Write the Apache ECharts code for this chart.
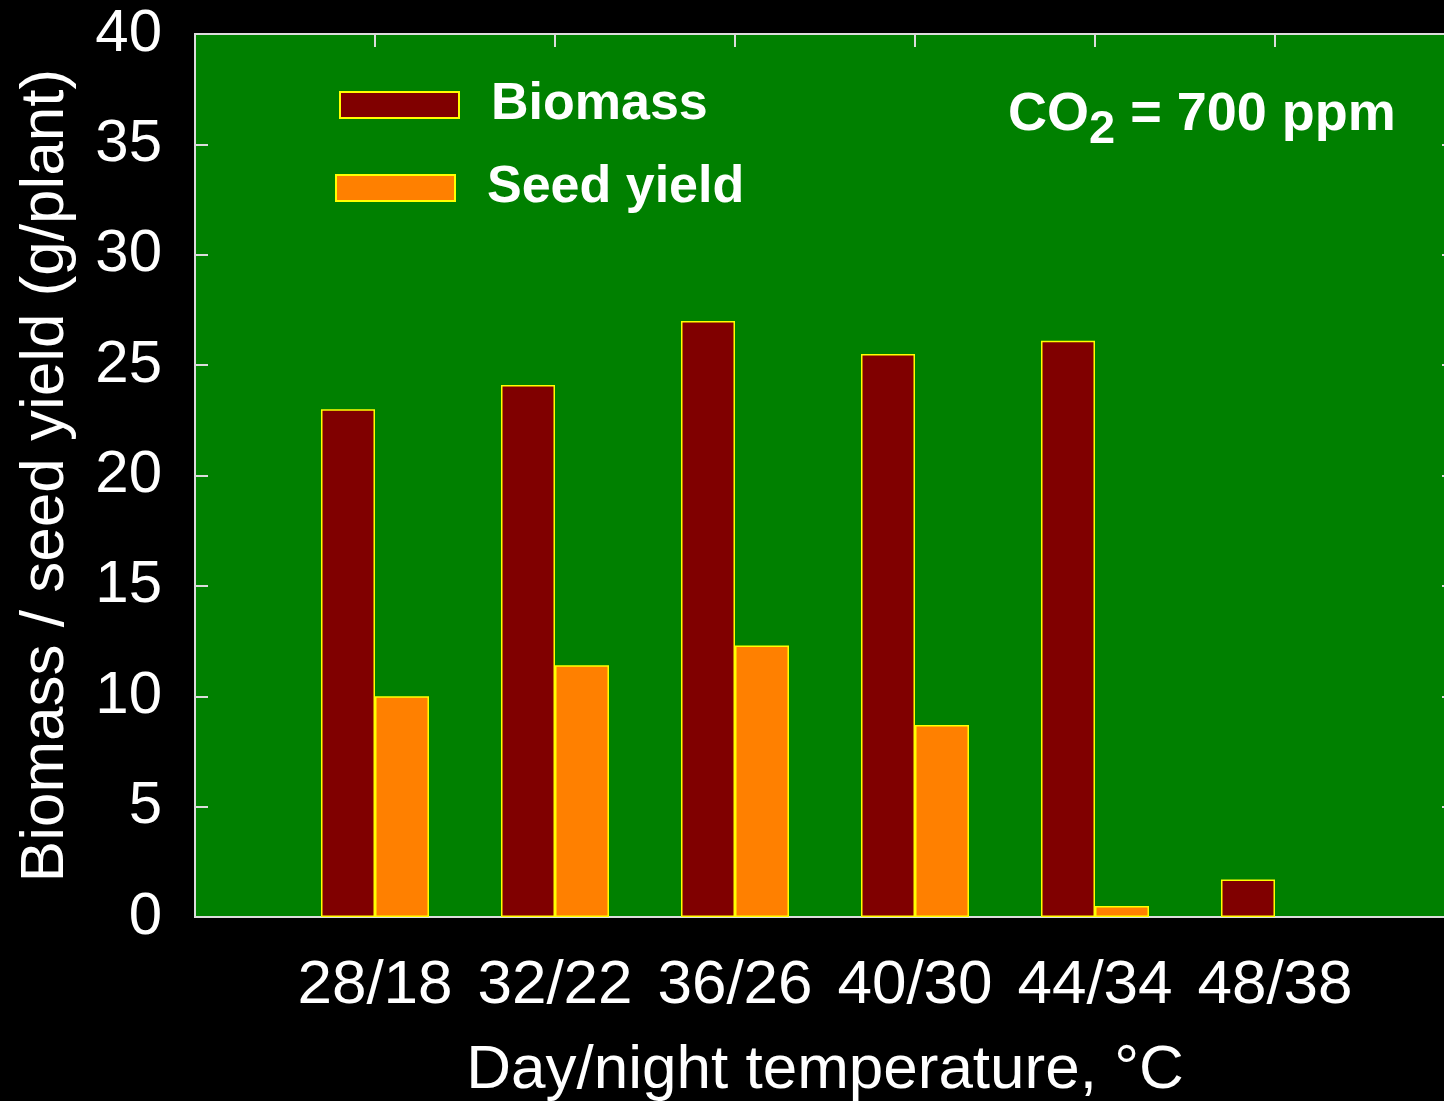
<!DOCTYPE html>
<html>
<head>
<meta charset="utf-8">
<script src="https://cdn.jsdelivr.net/npm/echarts@6/dist/echarts.min.js"></script>
<style>
  html, body { margin: 0; padding: 0; background: #000; }
  #chart { width: 1444px; height: 1101px; }
</style>
</head>
<body>
<div id="chart"></div>
<script>
// data
var temps = ['28/18', '32/22', '36/26', '40/30', '44/34', '48/38'];
var biomass = [23.0, 24.1, 27.0, 25.5, 26.1, 1.7];
var seedYield = [10.0, 11.4, 12.3, 8.7, 0.5, null]; // no seed at 48/38
var yTicks = [0, 5, 10, 15, 20, 25, 30, 35, 40];

var font = 'Liberation Sans, Arial, sans-serif';
var lineCol = '#dcdcdc';

// one empty slot on each side so the groups sit on the ticks like the original
var cats = [''].concat(temps, ['']);
var pad = function (arr) { return [null].concat(arr, [null]); };

var chart = echarts.init(document.getElementById('chart'));

var legendText = { color: '#fff', fontSize: 52, fontWeight: 'bold', fontFamily: font, lineHeight: 26, padding: [0, 0, 0, 27] };

var option = {
    backgroundColor: '#000',
    animation: false,
    grid: {
        left: 195, top: 34, bottom: 184, width: 1260,
        outerBoundsMode: 'none', containLabel: false,
        show: true, backgroundColor: '#008000',
        borderColor: lineCol, borderWidth: 2
    },
    title: {
        text: '{a|CO}{b|2}{a| = 700 ppm}',
        left: 1003, top: 83,
        textStyle: {
            rich: {
                a: { fontSize: 54, fontWeight: 'bold', color: '#fff', fontFamily: font, lineHeight: 60, verticalAlign: 'top' },
                b: { fontSize: 47, fontWeight: 'bold', color: '#fff', fontFamily: font, lineHeight: 60, verticalAlign: 'top', padding: [19, 0, 0, 0] }
            }
        }
    },
    legend: [{
        data: ['Biomass'], left: 339, top: 79, padding: 0,
        icon: 'rect', itemWidth: 119, itemHeight: 26,
        textStyle: legendText
    }, {
        data: ['Seed yield'], left: 335, top: 162, padding: 0,
        icon: 'rect', itemWidth: 119, itemHeight: 26,
        textStyle: legendText
    }],
    xAxis: [{
        type: 'category', data: cats, boundaryGap: false,
        name: 'Day/night temperature, °C', nameLocation: 'middle', nameGap: 123,
        nameTextStyle: { color: '#fff', fontSize: 62, fontFamily: font },
        axisLine: { onZero: false, lineStyle: { color: lineCol, width: 2 } },
        axisTick: { show: false },
        axisLabel: { color: '#fff', fontSize: 62, fontFamily: font, margin: 38, interval: 0 },
        splitLine: { show: false }
    }, {
        type: 'category', data: cats, boundaryGap: false, position: 'top',
        axisLine: { onZero: false, lineStyle: { color: lineCol, width: 2 } },
        axisTick: { show: true, inside: true, length: 13, interval: 0, lineStyle: { color: lineCol, width: 2 } },
        axisLabel: { show: false },
        splitLine: { show: false }
    }],
    yAxis: [{
        type: 'value', min: yTicks[0], max: yTicks[yTicks.length - 1], interval: 5,
        name: 'Biomass / seed yield (g/plant)', nameLocation: 'middle', nameGap: 118,
        nameTextStyle: { color: '#fff', fontSize: 62, fontFamily: font },
        axisLine: { show: true, onZero: false, lineStyle: { color: lineCol, width: 2 } },
        axisTick: { show: true, inside: true, length: 13, lineStyle: { color: lineCol, width: 2 } },
        axisLabel: { color: '#fff', fontSize: 60, fontFamily: font, margin: 33 },
        splitLine: { show: false }
    }, {
        type: 'value', min: yTicks[0], max: yTicks[yTicks.length - 1], interval: 5, position: 'right',
        axisLine: { show: true, onZero: false, lineStyle: { color: lineCol, width: 2 } },
        axisTick: { show: true, inside: true, length: 13, lineStyle: { color: lineCol, width: 2 } },
        axisLabel: { show: false },
        splitLine: { show: false }
    }],
    series: [{
        name: 'Biomass', type: 'bar', data: pad(biomass),
        barWidth: 54, barGap: '0%',
        itemStyle: { color: '#800000', borderColor: '#ffff00', borderWidth: 1.5 }
    }, {
        name: 'Seed yield', type: 'bar', data: pad(seedYield),
        barWidth: 54, barGap: '0%',
        itemStyle: { color: '#ff8000', borderColor: '#ffff00', borderWidth: 1.5 }
    }]
};

chart.setOption(option);
</script>
</body>
</html>
